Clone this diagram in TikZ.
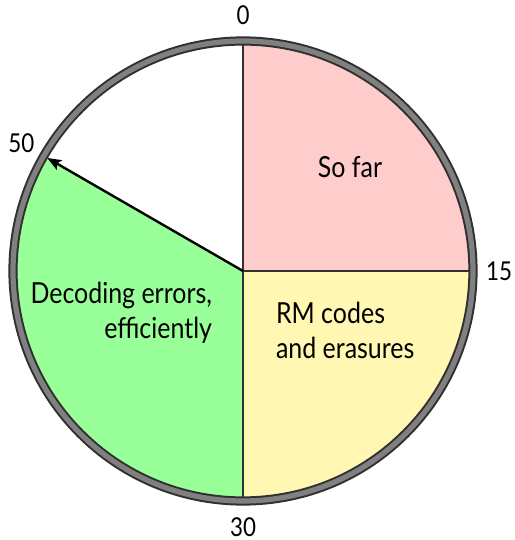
\documentclass[tikz,border=0pt]{standalone}
\usepackage{fontspec}
\setmainfont{Lato}[FakeStretch=0.86]
\usetikzlibrary{arrows.meta}
\definecolor{sofar}{RGB}{255,204,204}
\definecolor{rmpart}{RGB}{255,247,178}
\definecolor{decpart}{RGB}{153,255,153}
\definecolor{rimgray}{RGB}{128,128,128}
\definecolor{rimdark}{RGB}{48,48,48}
\begin{document}
\begin{tikzpicture}[x=0.5pt,y=0.5pt,>={Stealth[length=7pt,width=5.5pt,inset=1.5pt]},font=\fontsize{14.5}{17.5}\selectfont]
\useasboundingbox (-243,-269) rectangle (271,271);
\coordinate (O) at (0,0);
% minutes on the dial: angle = 90 - 6*m
\foreach \a/\b/\c in {0/15/sofar,15/30/rmpart,30/50/decpart}
  \fill[\c] (O) -- ({90-6*\a}:230) arc ({90-6*\a}:{90-6*\b}:230) -- cycle;
\foreach \m in {0,15,30}
  \draw[rimdark,line width=0.7pt] (O) -- ({90-6*\m}:228);
\draw[->,line width=1.2pt] (O) -- (150:226) coordinate (hand);
% rim
\draw[rimdark,line width=4.6pt] (O) circle (230);
\draw[rimgray,line width=2.6pt] (O) circle (230);
% ticks
\foreach \m in {0,15,30,50}
  \node[font=\fontsize{13}{15}\selectfont] (m\m) at ({90-6*\m}:256) {\m};
\node (sofar) at (107,104) {So far};
\node[anchor=west,align=left] (rm) at (26,-59) {RM codes\\and erasures};
\node[anchor=east,align=right] (dec) at (-24,-42) {Decoding errors,\\efficiently};
\end{tikzpicture}
\end{document}
